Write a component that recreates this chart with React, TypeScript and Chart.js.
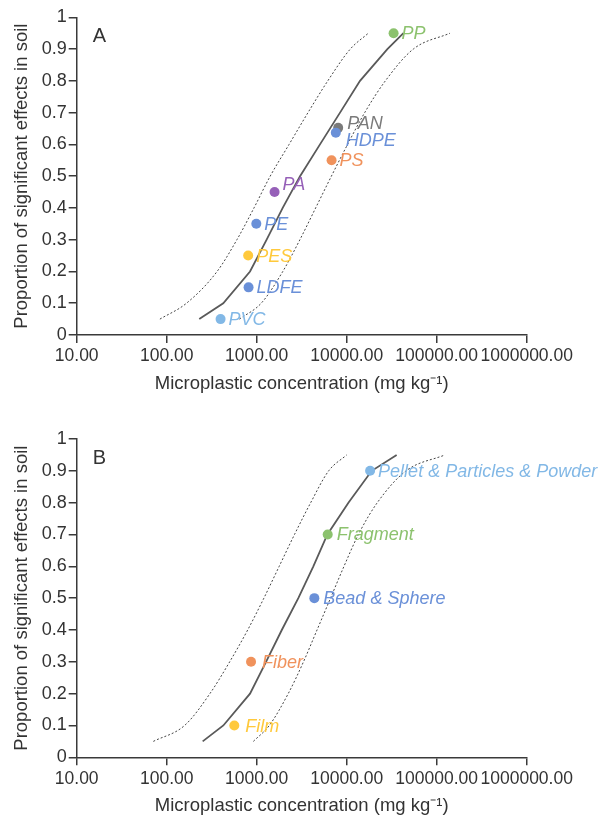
import React, { useEffect, useRef } from "react";
import { Chart, registerables } from "chart.js";

Chart.register(...registerables);

// ---------- shared axis data ----------
const xTickValues = [10, 100, 1000, 10000, 100000, 1000000];
const yMin = 0;
const yMax = 1;
const yStep = 0.1;
const xTitle = "Microplastic concentration (mg kg\u207B\u00B9)";
const yTitle = "Proportion of significant effects in soil";

// proportion levels at which the fitted curves were read
const curveLevels = [0.05, 0.1, 0.2, 0.3, 0.4, 0.5, 0.6, 0.7, 0.8, 0.9, 0.95];

// ---------- Panel A: polymer types ----------
const polymerNames = ["PP", "PAN", "HDPE", "PS", "PA", "PE", "PES", "LDFE", "PVC"];
const polymerConc = [33200, 8040, 7570, 6790, 1580, 990, 804, 812, 397];
const polymerProp = [0.95, 0.652, 0.637, 0.55, 0.45, 0.35, 0.25, 0.15, 0.05];
const polymerColors = ["#8cc26e", "#7a7a7a", "#6a90d8", "#f0925c", "#9660b8", "#6a90d8", "#ffc93c", "#6a90d8", "#82b8e6"];
const aFitConc = [230, 425, 843, 1290, 1945, 3030, 5050, 8430, 14060, 28300, 42700];
const aLowerConc = [84, 166, 363, 603, 933, 1413, 2291, 3715, 6166, 10960, 17400];
const aUpperConc = [641, 1122, 1950, 3020, 4520, 6760, 10230, 15850, 26900, 55000, 140600];

// ---------- Panel B: shapes ----------
const shapeNames = ["Pellet & Particles & Powder", "Fragment", "Bead & Sphere", "Fiber", "Film"];
const shapeConc = [18200, 6150, 4370, 865, 564];
const shapeProp = [0.9, 0.7, 0.5, 0.3, 0.1];
const shapeColors = ["#82b8e6", "#8cc26e", "#6a90d8", "#f0925c", "#ffc93c"];
const bFitConc = [251, 426, 843, 1270, 1900, 2900, 4260, 6100, 10450, 18960, 35900];
const bLowerConc = [71, 158, 302, 501, 794, 1202, 1778, 2630, 3981, 6310, 10000];
const bUpperConc = [918, 1380, 2240, 3310, 4680, 6610, 9330, 13490, 21880, 45700, 123600];

// ---------- styling ----------
const FONT = '"Liberation Sans", Arial, Helvetica, sans-serif';
const TEXT = "#333333";
const AXIS = "#3a3a3a";
const PAGE_W = 608;
const AREA_LEFT = 76.7;
const AREA_RIGHT = 526.7;

type PanelProps = {
  letter: string;
  top: number;
  height: number;
  areaTop: number;
  areaBottom: number;
  names: string[];
  conc: number[];
  prop: number[];
  colors: string[];
  dx: number[];
  dy: number[];
  fit: number[];
  lower: number[];
  upper: number[];
};

function makeLabelPlugin(p: PanelProps) {
  return {
    id: "pointLabels" + p.letter,
    afterDatasetsDraw(chart: any) {
      const { ctx, chartArea } = chart;
      const meta = chart.getDatasetMeta(0);
      ctx.save();
      ctx.font = `italic 18px ${FONT}`;
      ctx.textBaseline = "middle";
      ctx.textAlign = "left";
      meta.data.forEach((el: any, i: number) => {
        ctx.fillStyle = p.colors[i];
        ctx.fillText(p.names[i], el.x + p.dx[i], el.y + p.dy[i]);
      });
      ctx.font = `20px ${FONT}`;
      ctx.fillStyle = TEXT;
      ctx.fillText(p.letter, chartArea.left + 16, chartArea.top + 19);
      ctx.restore();
    },
  };
}

function Panel(p: PanelProps) {
  const ref = useRef<HTMLCanvasElement | null>(null);
  useEffect(() => {
    if (!ref.current) return;
    const xAxisHeight = p.height - p.areaBottom;
    const toPts = (xs: number[], ys: number[]) => xs.map((x, i) => ({ x, y: ys[i] }));
    const chart = new Chart(ref.current, {
      type: "scatter",
      data: {
        datasets: [
          {
            label: "points",
            data: toPts(p.conc, p.prop),
            backgroundColor: p.colors,
            pointRadius: 5,
            pointBorderWidth: 0,
            showLine: false,
          } as any,
          {
            label: "fit",
            data: toPts(p.fit, curveLevels),
            showLine: true,
            borderColor: "#5a5a5a",
            borderWidth: 1.8,
            pointRadius: 0,
            tension: 0,
          },
          {
            label: "lower",
            data: toPts(p.lower, curveLevels),
            showLine: true,
            borderColor: "#444444",
            borderWidth: 1,
            borderDash: [2, 2],
            pointRadius: 0,
            cubicInterpolationMode: "monotone",
          },
          {
            label: "upper",
            data: toPts(p.upper, curveLevels),
            showLine: true,
            borderColor: "#444444",
            borderWidth: 1,
            borderDash: [2, 2],
            pointRadius: 0,
            cubicInterpolationMode: "monotone",
          },
        ],
      },
      options: {
        responsive: false,
        animation: false,
        events: [],
        layout: {
          padding: { top: p.areaTop, right: PAGE_W - AREA_RIGHT, left: 0, bottom: 0 },
        },
        plugins: {
          legend: { display: false },
          tooltip: { enabled: false },
        },
        scales: {
          x: {
            type: "logarithmic",
            min: xTickValues[0],
            max: xTickValues[xTickValues.length - 1],
            afterBuildTicks: (scale: any) => {
              scale.ticks = xTickValues.map((v) => ({ value: v }));
            },
            afterFit: (scale: any) => {
              scale.height = xAxisHeight;
            },
            ticks: {
              autoSkip: false,
              maxRotation: 0,
              minRotation: 0,
              padding: 3,
              color: TEXT,
              font: { family: FONT, size: 17.5, lineHeight: 1.2 },
              callback: (v: any) => Number(v).toFixed(2),
            },
            grid: {
              display: true,
              drawOnChartArea: false,
              drawTicks: true,
              tickLength: 8,
              color: AXIS,
              lineWidth: 1.5,
            },
            border: { display: true, color: AXIS, width: 1.5 },
            title: {
              display: true,
              text: xTitle,
              color: TEXT,
              font: { family: FONT, size: 18.5, lineHeight: 1 },
              padding: { top: 0, bottom: Math.max(0, xAxisHeight - 49 - 9.25) },
            },
          },
          y: {
            type: "linear",
            min: yMin,
            max: yMax,
            afterFit: (scale: any) => {
              scale.width = AREA_LEFT;
            },
            ticks: {
              stepSize: yStep,
              padding: 2,
              color: TEXT,
              font: { family: FONT, size: 18, lineHeight: 1.2 },
              callback: (v: any) => String(Math.round(Number(v) * 10) / 10),
            },
            grid: {
              display: true,
              drawOnChartArea: false,
              drawTicks: true,
              tickLength: 8,
              color: AXIS,
              lineWidth: 1.5,
            },
            border: { display: true, color: AXIS, width: 1.5 },
            title: {
              display: true,
              text: yTitle,
              color: TEXT,
              font: { family: FONT, size: 18.5, lineHeight: 1 },
              padding: { top: 12.25, bottom: 0 },
            },
          },
        },
      } as any,
      plugins: [makeLabelPlugin(p)],
    });
    return () => chart.destroy();
  }, []);
  return (
    <canvas
      ref={ref}
      width={PAGE_W}
      height={p.height}
      style={{ position: "absolute", left: 0, top: p.top, width: PAGE_W, height: p.height }}
    />
  );
}

export default function App() {
  return (
    <div style={{ position: "absolute", left: 0, top: 0, width: PAGE_W, height: 816, background: "#fff" }}>
      <Panel
        letter="A"
        top={0}
        height={408}
        areaTop={17.3}
        areaBottom={335}
        names={polymerNames}
        conc={polymerConc}
        prop={polymerProp}
        colors={polymerColors}
        dx={[8, 9, 10, 8, 8, 8, 8, 8, 8]}
        dy={[1, -4, 8, 1, -7, 1, 1, 1, 1]}
        fit={aFitConc}
        lower={aLowerConc}
        upper={aUpperConc}
      />
      <Panel
        letter="B"
        top={400}
        height={416}
        areaTop={39}
        areaBottom={357.3}
        names={shapeNames}
        conc={shapeConc}
        prop={shapeProp}
        colors={shapeColors}
        dx={[8, 9, 9, 11, 11]}
        dy={[1, 1, 1, 1, 2]}
        fit={bFitConc}
        lower={bLowerConc}
        upper={bUpperConc}
      />
    </div>
  );
}
